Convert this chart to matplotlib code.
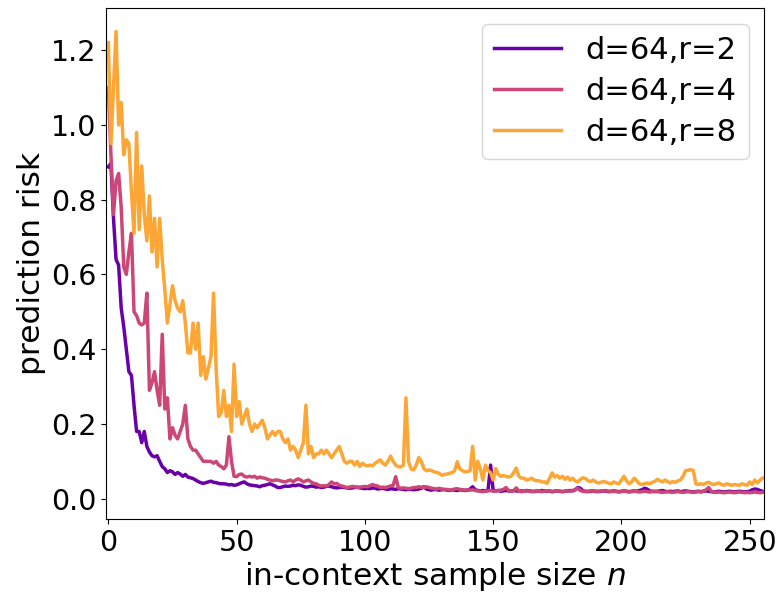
import numpy as np
import matplotlib
matplotlib.use("Agg")
import matplotlib.pyplot as plt

labels = ["d=64,r=2", "d=64,r=4", "d=64,r=8"]
colors = ["#6a00a8", "#cc4778", "#fca636"]

risk_r2 = [
    0.888, 0.897, 0.75, 0.64, 0.625, 0.51, 0.46, 0.40, 0.34, 0.33,
    0.25, 0.18, 0.18, 0.15, 0.18, 0.14, 0.125, 0.115, 0.112, 0.115,
    0.10, 0.086, 0.08, 0.07, 0.075, 0.072, 0.065, 0.07, 0.066, 0.06,
    0.065, 0.058, 0.056, 0.054, 0.05, 0.046, 0.043, 0.041, 0.043, 0.045,
    0.047, 0.044, 0.043, 0.041, 0.04, 0.04, 0.039, 0.037, 0.038, 0.036,
    0.037, 0.04, 0.043, 0.045, 0.04, 0.037, 0.036, 0.035, 0.034, 0.032,
    0.035, 0.036, 0.038, 0.04, 0.037, 0.034, 0.03, 0.03, 0.032, 0.034,
    0.033, 0.034, 0.036, 0.035, 0.037, 0.036, 0.033, 0.031, 0.032, 0.034,
    0.033, 0.031, 0.032, 0.03, 0.031, 0.033, 0.034, 0.032, 0.03, 0.029,
    0.03, 0.031, 0.03, 0.029, 0.028, 0.029, 0.03, 0.031, 0.029, 0.028,
    0.027, 0.028, 0.027, 0.029, 0.028, 0.026, 0.027, 0.028, 0.026, 0.025,
    0.027, 0.026, 0.025, 0.027, 0.026, 0.025, 0.024, 0.026, 0.025, 0.024,
    0.025, 0.026, 0.028, 0.032, 0.026, 0.024, 0.023, 0.025, 0.024, 0.023,
    0.024, 0.025, 0.023, 0.022, 0.024, 0.023, 0.022, 0.024, 0.023, 0.022,
    0.023, 0.026, 0.032, 0.024, 0.022, 0.021, 0.022, 0.021, 0.023, 0.09,
    0.022, 0.021, 0.022, 0.02, 0.021, 0.022, 0.021, 0.02, 0.022, 0.021,
    0.02, 0.021, 0.02, 0.022, 0.021, 0.02, 0.019, 0.021, 0.02, 0.022,
    0.021, 0.02, 0.021, 0.019, 0.02, 0.021, 0.02, 0.019, 0.02, 0.021,
    0.022, 0.021, 0.024, 0.03, 0.028, 0.021, 0.02, 0.019, 0.02, 0.021,
    0.02, 0.019, 0.02, 0.021, 0.02, 0.019, 0.02, 0.021, 0.02, 0.019,
    0.02, 0.021, 0.02, 0.019, 0.02, 0.021, 0.02, 0.022, 0.024, 0.028,
    0.026, 0.021, 0.02, 0.019, 0.02, 0.021, 0.022, 0.02, 0.019, 0.02,
    0.019, 0.02, 0.021, 0.019, 0.02, 0.021, 0.02, 0.019, 0.018, 0.019,
    0.02, 0.019, 0.02, 0.021, 0.02, 0.019, 0.018, 0.019, 0.02, 0.019,
    0.018, 0.019, 0.02, 0.019, 0.018, 0.019, 0.02, 0.019, 0.018, 0.019,
    0.02, 0.024, 0.026, 0.025, 0.022, 0.02,
]

risk_r4 = [
    1.10, 0.92, 0.76, 0.85, 0.87, 0.78, 0.62, 0.60, 0.66, 0.71,
    0.50, 0.49, 0.47, 0.465, 0.47, 0.55, 0.29, 0.31, 0.34, 0.29,
    0.25, 0.44, 0.24, 0.27, 0.16, 0.19, 0.17, 0.16, 0.18, 0.20,
    0.25, 0.16, 0.14, 0.13, 0.13, 0.12, 0.11, 0.10, 0.10, 0.10,
    0.10, 0.095, 0.10, 0.09, 0.086, 0.08, 0.09, 0.166, 0.10, 0.06,
    0.059, 0.065, 0.066, 0.06, 0.058, 0.06, 0.058, 0.06, 0.055, 0.058,
    0.056, 0.055, 0.052, 0.05, 0.048, 0.05, 0.05, 0.048, 0.046, 0.045,
    0.048, 0.05, 0.045, 0.05, 0.053, 0.05, 0.045, 0.048, 0.05, 0.045,
    0.041, 0.04, 0.036, 0.034, 0.035, 0.034, 0.038, 0.045, 0.04, 0.041,
    0.036, 0.034, 0.032, 0.03, 0.031, 0.033, 0.032, 0.03, 0.031, 0.032,
    0.033, 0.032, 0.035, 0.038, 0.035, 0.034, 0.03, 0.031, 0.03, 0.032,
    0.034, 0.036, 0.059, 0.03, 0.028, 0.029, 0.028, 0.027, 0.028, 0.03,
    0.03, 0.032, 0.031, 0.03, 0.032, 0.03, 0.028, 0.027, 0.026, 0.028,
    0.026, 0.024, 0.025, 0.023, 0.024, 0.026, 0.027, 0.025, 0.024, 0.023,
    0.024, 0.023, 0.024, 0.022, 0.021, 0.02, 0.019, 0.02, 0.021, 0.022,
    0.02, 0.021, 0.022, 0.023, 0.025, 0.03, 0.022, 0.02, 0.021, 0.029,
    0.02, 0.019, 0.02, 0.021, 0.02, 0.019, 0.02, 0.021, 0.02, 0.019,
    0.02, 0.021, 0.02, 0.019, 0.02, 0.021, 0.02, 0.019, 0.02, 0.021,
    0.02, 0.022, 0.025, 0.028, 0.022, 0.02, 0.019, 0.02, 0.021, 0.02,
    0.019, 0.02, 0.021, 0.02, 0.022, 0.02, 0.019, 0.02, 0.019, 0.018,
    0.019, 0.02, 0.019, 0.018, 0.019, 0.02, 0.019, 0.018, 0.019, 0.02,
    0.019, 0.018, 0.019, 0.02, 0.019, 0.018, 0.017, 0.018, 0.019, 0.018,
    0.017, 0.018, 0.019, 0.018, 0.017, 0.018, 0.019, 0.018, 0.017, 0.018,
    0.019, 0.018, 0.02, 0.024, 0.03, 0.02, 0.018, 0.017, 0.018, 0.017,
    0.016, 0.017, 0.018, 0.017, 0.016, 0.017, 0.018, 0.017, 0.016, 0.017,
    0.016, 0.017, 0.018, 0.017, 0.016, 0.017,
]

risk_r8 = [
    1.22, 0.95, 1.10, 1.25, 1.00, 1.06, 0.92, 0.96, 0.95, 0.82,
    0.71, 0.98, 0.72, 0.89, 0.76, 0.69, 0.81, 0.66, 0.75, 0.62,
    0.75, 0.64, 0.56, 0.47, 0.52, 0.57, 0.53, 0.51, 0.50, 0.53,
    0.47, 0.39, 0.39, 0.47, 0.40, 0.47, 0.33, 0.38, 0.32, 0.35,
    0.38, 0.55, 0.35, 0.22, 0.23, 0.29, 0.22, 0.25, 0.18, 0.36,
    0.22, 0.26, 0.20, 0.22, 0.24, 0.20, 0.18, 0.20, 0.19, 0.20,
    0.21, 0.19, 0.16, 0.17, 0.18, 0.17, 0.18, 0.18, 0.16, 0.15,
    0.16, 0.13, 0.14, 0.13, 0.11, 0.13, 0.15, 0.25, 0.12, 0.14,
    0.11, 0.12, 0.12, 0.13, 0.12, 0.13, 0.12, 0.11, 0.12, 0.13,
    0.14, 0.12, 0.10, 0.095, 0.10, 0.10, 0.09, 0.10, 0.086, 0.095,
    0.09, 0.088, 0.09, 0.088, 0.095, 0.10, 0.104, 0.095, 0.09, 0.10,
    0.114, 0.10, 0.09, 0.086, 0.085, 0.09, 0.27, 0.10, 0.08, 0.077,
    0.09, 0.11, 0.10, 0.08, 0.075, 0.077, 0.075, 0.072, 0.07, 0.068,
    0.063, 0.065, 0.066, 0.068, 0.07, 0.075, 0.099, 0.08, 0.075, 0.072,
    0.073, 0.075, 0.14, 0.05, 0.10, 0.08, 0.05, 0.09, 0.075, 0.07,
    0.05, 0.081, 0.065, 0.06, 0.062, 0.06, 0.058, 0.06, 0.07, 0.082,
    0.06, 0.055, 0.055, 0.05, 0.052, 0.055, 0.05, 0.048, 0.048, 0.045,
    0.045, 0.041, 0.055, 0.069, 0.058, 0.062, 0.055, 0.06, 0.052, 0.058,
    0.05, 0.055, 0.048, 0.045, 0.052, 0.056, 0.054, 0.048, 0.046, 0.05,
    0.045, 0.042, 0.044, 0.046, 0.044, 0.042, 0.04, 0.045, 0.042, 0.04,
    0.05, 0.06, 0.048, 0.04, 0.045, 0.055, 0.048, 0.04, 0.038, 0.04,
    0.042, 0.04, 0.044, 0.046, 0.052, 0.048, 0.045, 0.05, 0.046, 0.042,
    0.046, 0.044, 0.048, 0.05, 0.06, 0.075, 0.076, 0.078, 0.075, 0.04,
    0.038, 0.04, 0.038, 0.042, 0.044, 0.04, 0.038, 0.04, 0.042, 0.038,
    0.036, 0.04, 0.038, 0.036, 0.038, 0.037, 0.036, 0.04, 0.038, 0.036,
    0.045, 0.038, 0.05, 0.042, 0.05, 0.055,
]

series = [risk_r2, risk_r4, risk_r8]
xticks = [0, 50, 100, 150, 200, 250]
yticks = [0.0, 0.2, 0.4, 0.6, 0.8, 1.0, 1.2]

plt.rcParams['font.family'] = ['DejaVu Sans']
fig = plt.figure(figsize=(7.8, 5.93), dpi=100)
ax = fig.add_axes([0.1363, 0.1243, 0.8436, 0.8617])

for vals, lab, col in zip(series, labels, colors):
    n = np.arange(len(vals))
    ax.plot(n, vals, color=col, lw=2.5, label=lab)

ax.set_xlim(-0.8, 255.7)
ax.set_ylim(-0.055, 1.312)
ax.set_xticks(xticks)
ax.set_yticks(yticks)
ax.set_xticklabels([str(t) for t in xticks])
ax.set_yticklabels([f"{t:.1f}" for t in yticks])
ax.tick_params(labelsize=20.5)
ax.set_xlabel("in-context sample size $n$", fontsize=22.5, labelpad=2)
ax.set_ylabel("prediction risk", fontsize=22.5, labelpad=4)
ax.legend(loc="upper right", fontsize=22, handlelength=2.2, labelspacing=0.39)

fig.savefig("out.png", dpi=100)
